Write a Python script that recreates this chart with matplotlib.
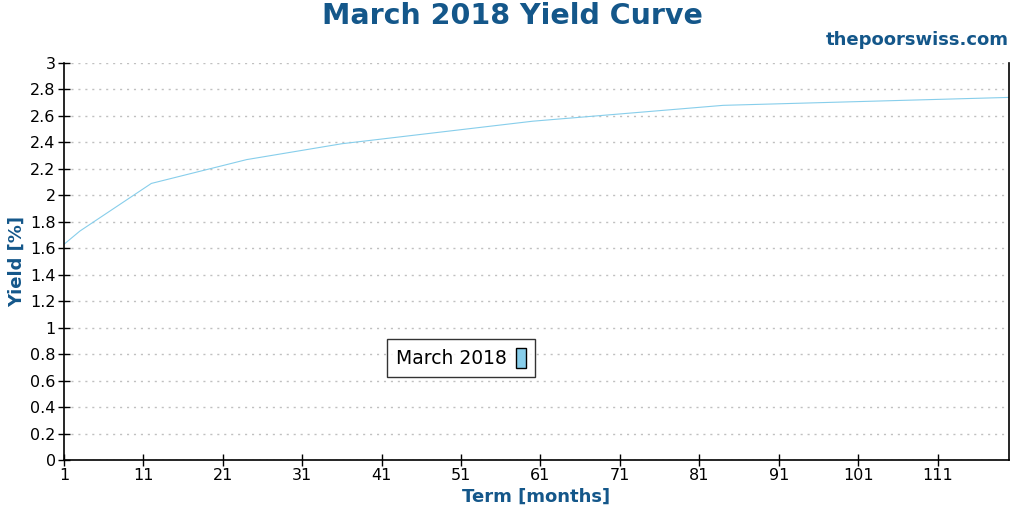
import matplotlib
matplotlib.use("Agg")
import matplotlib.pyplot as plt
from matplotlib.patches import Patch

terms = [1, 3, 6, 12, 24, 36, 60, 84, 120]
yields = [1.63, 1.73, 1.85, 2.09, 2.27, 2.39, 2.56, 2.68, 2.74]
series_name = "March 2018"
x_ticks = list(range(1, 121, 10))
y_ticks = [round(0.2 * i, 1) for i in range(16)]
y_tick_labels = ["0", "0.2", "0.4", "0.6", "0.8", "1", "1.2", "1.4", "1.6", "1.8",
                 "2", "2.2", "2.4", "2.6", "2.8", "3"]

blue = "#14578a"
line_color = "#87ceeb"

fig = plt.figure(figsize=(10.24, 5.12), dpi=100)
ax = fig.add_axes([64 / 1024, 52 / 512, 945 / 1024, 397 / 512])

ax.plot(terms, yields, color=line_color, linewidth=0.8)

ax.set_xlim(1, 120)
ax.set_ylim(0, 3)
ax.set_xticks(x_ticks)
ax.set_yticks(y_ticks)
ax.set_yticklabels(y_tick_labels)
ax.tick_params(axis="both", direction="inout", length=8, width=1, labelsize=11.5, colors="black", pad=2)

ax.yaxis.grid(True, linestyle=(0, (1.5, 3.5)), color="#c0c0c0", linewidth=1)
ax.xaxis.grid(False)
ax.set_axisbelow(True)

for s in ["left", "bottom", "right"]:
    ax.spines[s].set_color("black")
    ax.spines[s].set_linewidth(1.2)
ax.spines["top"].set_visible(False)

ax.set_xlabel("Term [months]", fontsize=13, fontweight="bold", color=blue, labelpad=3)
ax.set_ylabel("Yield [%]", fontsize=13, fontweight="bold", color=blue, labelpad=3)

fig.text(0.5, 1 - 16 / 512, "March 2018 Yield Curve", ha="center", va="center",
         fontsize=20.5, fontweight="bold", color=blue)
fig.text(1009 / 1024, 1 - 40 / 512, "thepoorswiss.com", ha="right", va="center",
         fontsize=13, fontweight="bold", color=blue)

handle = Patch(facecolor=line_color, edgecolor="black", linewidth=1)
leg = ax.legend([handle], [series_name], loc="center", bbox_to_anchor=(0.42, 0.257),
                markerfirst=False, fontsize=13.5, frameon=True, fancybox=False,
                handlelength=0.55, handleheight=1.3, handletextpad=0.5,
                borderpad=0.45, borderaxespad=0)
leg.get_frame().set_edgecolor("black")
leg.get_frame().set_linewidth(1)

fig.savefig("out.png", dpi=100)
